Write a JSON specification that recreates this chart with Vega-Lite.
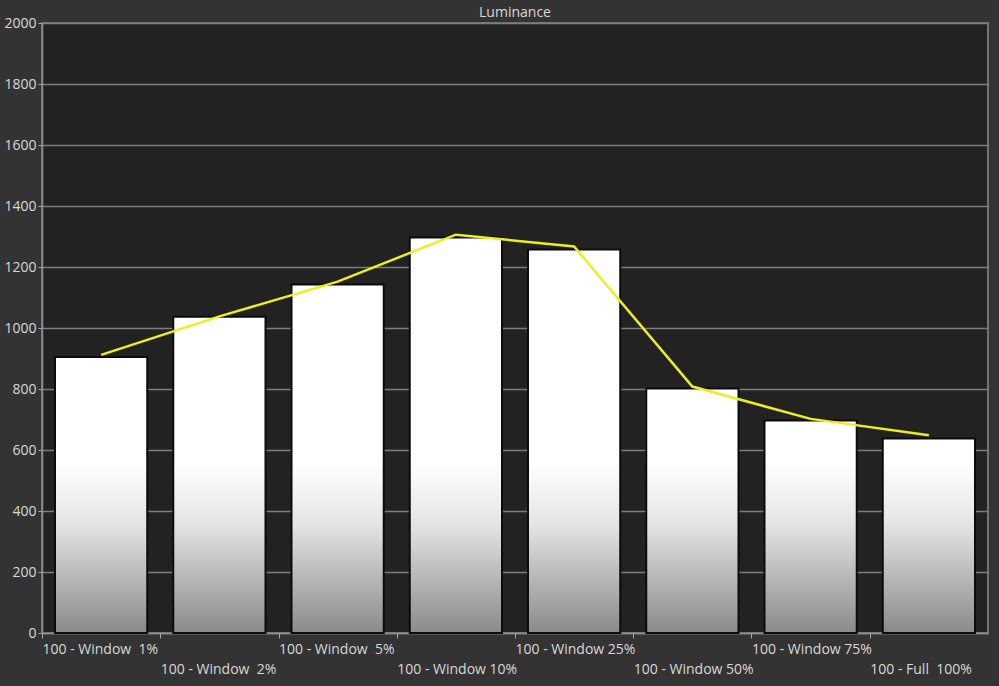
{
  "$schema": "https://vega.github.io/schema/vega-lite/v6.json",
  "width": 946,
  "height": 610,
  "autosize": {"type": "none"},
  "padding": {"left": 42, "top": 23, "right": 11, "bottom": 53},
  "background": "#333333",
  "title": {"text": "Luminance", "fontSize": 14, "font": "Open Sans", "fontWeight": "normal", "color": "#d8d8d8", "offset": -4, "anchor": "middle"},
  "config": {
    "view": {"fill": "#222222", "stroke": "#8a8a8a", "strokeWidth": 1.5},
    "axis": {"labelFont": "Open Sans", "labelFontSize": 14, "labelColor": "#d8d8d8", "domainColor": "#8f8f8f", "domainWidth": 1.5, "tickColor": "#aaaaaa", "title": null}
  },
  "data": {
    "values": [
      {"pattern": "100 - Window  1%", "luminance": 905, "target": 912},
      {"pattern": "100 - Window  2%", "luminance": 1037, "target": 1038},
      {"pattern": "100 - Window  5%", "luminance": 1143, "target": 1152},
      {"pattern": "100 - Window 10%", "luminance": 1297, "target": 1306},
      {"pattern": "100 - Window 25%", "luminance": 1257, "target": 1267},
      {"pattern": "100 - Window 50%", "luminance": 802, "target": 808},
      {"pattern": "100 - Window 75%", "luminance": 697, "target": 702},
      {"pattern": "100 - Full  100%", "luminance": 638, "target": 648}
    ]
  },
  "encoding": {
    "x": {
      "field": "pattern", "type": "nominal", "sort": null,
      "scale": {"paddingInner": 0.22, "paddingOuter": 0.11},
      "axis": {
        "labelAngle": 0, "labelAlign": "left", "labelBaseline": "top",
        "labelPadding": 4, "labelLineHeight": 20, "tickSize": 5, "tickOffset": -59.125,
        "labelBound": false, "labelOverlap": false, "labelLimit": 300,
        "grid": false,
        "labelExpr": "indexof(['100 - Window  2%','100 - Window 10%','100 - Window 50%','100 - Full  100%'], datum.value) >= 0 ? ['', replace(datum.label, '  ', '\u00a0 ')] : replace(datum.label, '  ', '\u00a0 ')"
      }
    }
  },
  "layer": [
    {
      "mark": {"type": "bar", "fill": "#ffffff", "strokeWidth": 0},
      "encoding": {
        "y": {"field": "luminance", "type": "quantitative", "scale": {"domain": [0, 2000], "nice": false},
          "axis": {"values": [0, 200, 400, 600, 800, 1000, 1200, 1400, 1600, 1800, 2000], "format": "d", "grid": true, "gridColor": "#7d7d7d", "gridWidth": 1.5, "tickSize": 4, "labelPadding": 2}}
      }
    },
    {
      "mark": {"type": "bar", "strokeWidth": 0, "fill": {"gradient": "linear", "x1": 0, "y1": 0, "x2": 0, "y2": 1, "stops": [{"offset": 0, "color": "#ffffff"}, {"offset": 0.35, "color": "#e6e6e6"}, {"offset": 1, "color": "#8a8a8a"}]}},
      "encoding": {
        "y": {"datum": 560, "type": "quantitative"},
        "y2": {"datum": 0}
      }
    },
    {
      "mark": {"type": "bar", "fillOpacity": 0, "stroke": "#0c0c0c", "strokeWidth": 2},
      "encoding": {
        "y": {"field": "luminance", "type": "quantitative"}
      }
    },
    {
      "mark": {"type": "line", "color": "#f0ec22", "strokeWidth": 2.5},
      "encoding": {
        "y": {"field": "target", "type": "quantitative"}
      }
    }
  ]
}
